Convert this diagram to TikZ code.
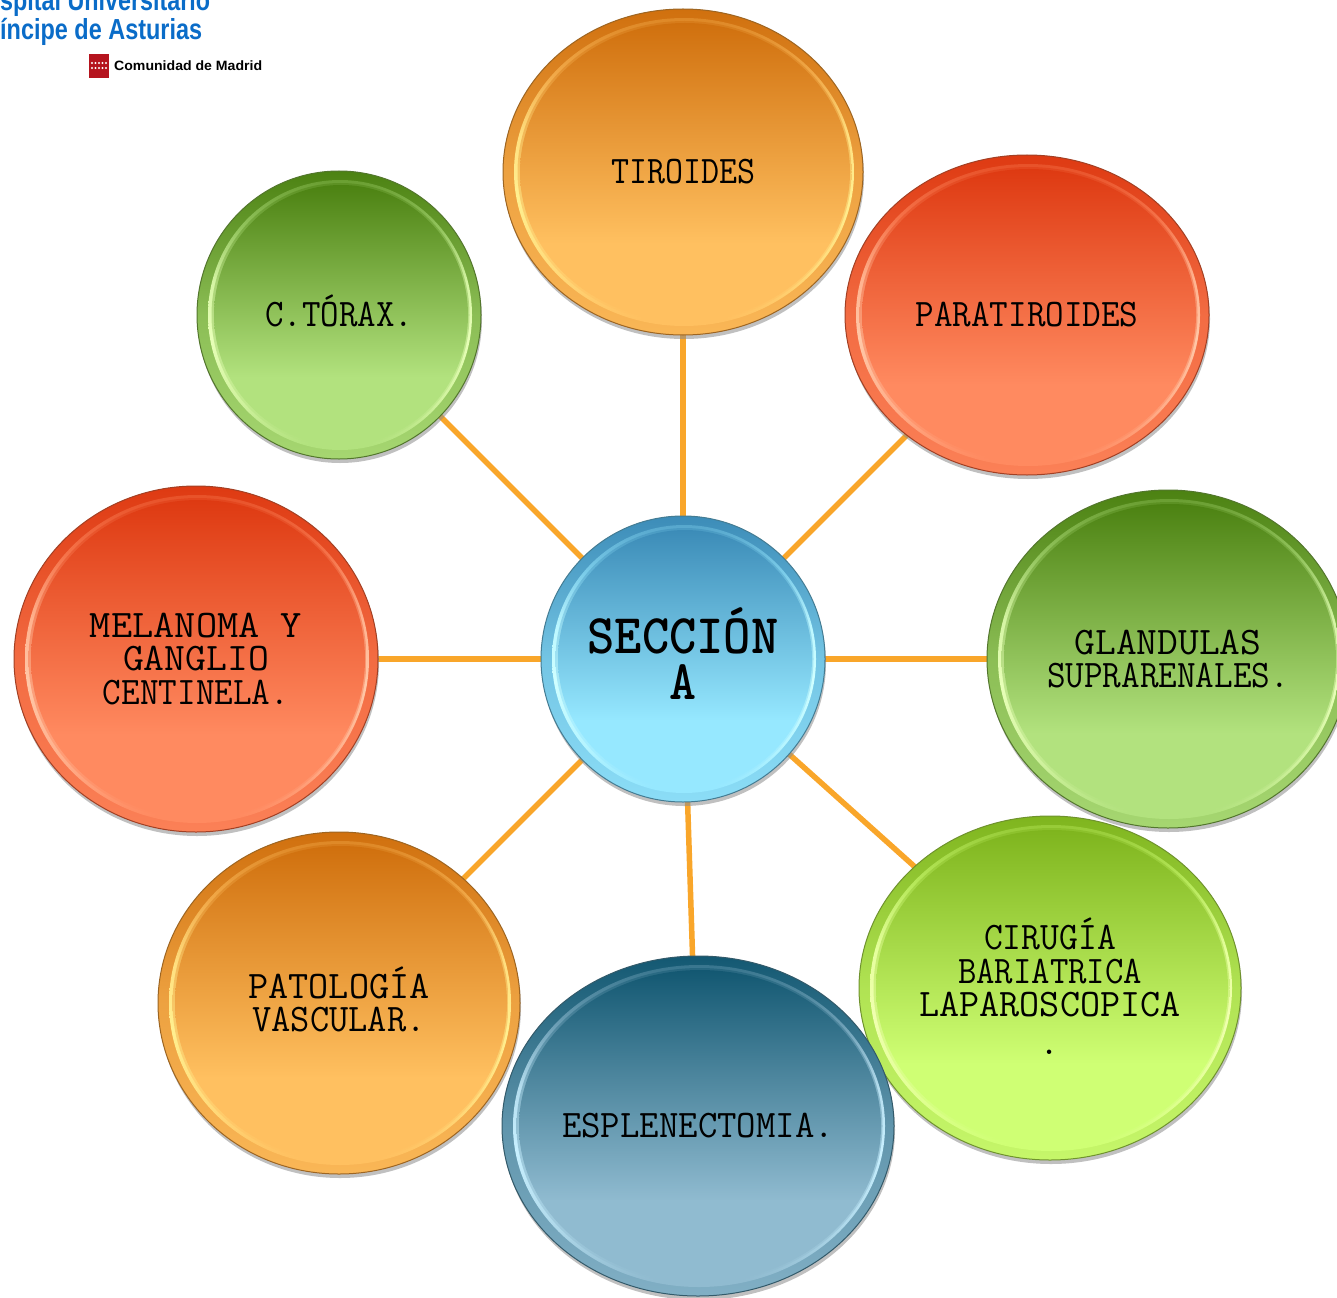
\documentclass[tikz,border=0pt]{standalone}
\usepackage{fontspec}
\usepackage{graphicx}
\usetikzlibrary{shapes.geometric,backgrounds}
\newfontfamily\logofont{Liberation Sans}
\definecolor{tcol}{HTML}{D0700E}
\definecolor{bcol}{HTML}{FFC060}
\definecolor{hcol}{HTML}{FFF090}
\definecolor{linkcol}{HTML}{F9A62A}
\definecolor{logoblue}{HTML}{0A6CC8}
\definecolor{logored}{HTML}{B5141E}
\pgfdeclareverticalshading[tcol,bcol]{bubfill}{100bp}{color(0bp)=(bcol); color(38bp)=(bcol); color(75bp)=(tcol); color(100bp)=(tcol)}
\pgfdeclareverticalshading[tcol,bcol]{bubrim}{100bp}{color(0bp)=(bcol); color(25bp)=(bcol!88!tcol); color(50bp)=(bcol!62!tcol); color(75bp)=(tcol); color(100bp)=(tcol)}
\pgfdeclareverticalshading[tcol,bcol,hcol]{bubhi}{100bp}{color(0bp)=(bcol); color(26bp)=(bcol); color(34bp)=(hcol!55!bcol); color(46bp)=(hcol); color(56bp)=(hcol!65!bcol); color(66bp)=(bcol!70!tcol); color(75bp)=(bcol!30!tcol); color(100bp)=(tcol)}
\tikzset{
  bubblenode/.style={ellipse,inner sep=0pt,align=center,text=black},
  linkline/.style={draw=linkcol,line width=5.5pt},
  shadowpart/.style={fill=black!45,opacity=.55},
  logotext/.style={anchor=base west,inner sep=0pt},
}
\newcommand\lblfont{\ttfamily\fontsize{39}{33.5}\selectfont}
\newcommand\bigfont{\ttfamily\bfseries\fontsize{56}{46}\selectfont}
\newcommand\bubfont{\lblfont}
\newcommand\fitw[2]{\raisebox{0pt}[0.611em][0pt]{\resizebox{#1pt}{\height}{#2}}}
% name, cx, cy, rx, ry, top, bottom, highlight, text
\newcommand\bubble[9]{%
  \definecolor{tcol}{HTML}{#6}\definecolor{bcol}{HTML}{#7}\definecolor{hcol}{HTML}{#8}%
  \fill[shadowpart] (#2+1,#3+4) ellipse [x radius=#4pt,y radius=#5pt];
  \path[shading=bubrim,draw=tcol!55!black!70!bcol,line width=1pt] (#2,#3) ellipse [x radius=#4pt,y radius=#5pt];
  \path[shading=bubhi] (#2+1,#3) ellipse [x radius=#4pt-10pt,y radius=#5pt-9pt];
  \path[shading=bubfill,opacity=.5] (#2+1.5,#3) ellipse [x radius=#4pt-13pt,y radius=#5pt-12pt];
  \path[shading=bubfill] (#2+2,#3) ellipse [x radius=#4pt-15pt,y radius=#5pt-14pt];
  \node[bubblenode,font=\bubfont,minimum width=2*#4 pt,minimum height=2*#5 pt] (#1) at (#2,#3) {#9};
}
\begin{document}
\begin{tikzpicture}[x=1pt,y=-1pt]
\useasboundingbox (0,0) rectangle (1337,1297);
\clip (0,0) rectangle (1337,1297);

\bubble{tir}{683}{172}{180}{163}{D0700E}{FFC060}{FFF090}{\fitw{144}{TIROIDES}}
\bubble{par}{1027}{315}{182}{160}{DE3A12}{FF8A60}{FFC8A8}{\fitw{223}{PARATIROIDES}}
\bubble{gla}{1168}{659}{181}{169}{4C8212}{B2E27E}{E8FFB8}{\fitw{187}{GLANDULAS}\\\fitw{242}{SUPRARENALES.}}
\bubble{pat}{339}{1003}{181}{171}{D0700E}{FFC060}{FFF090}{\fitw{181}{PATOLOGÍA}\\\fitw{173}{VASCULAR.}}
\bubble{mel}{196}{659}{182}{173}{DE3A12}{FF8A60}{FFC8A8}{\fitw{212}{MELANOMA Y}\\\fitw{146}{GANGLIO}\\\fitw{186}{CENTINELA.}}
\bubble{tor}{339}{315}{142}{144}{4C8212}{B2E27E}{E8FFB8}{\fitw{148}{C.TÓRAX.}}
\bubble{cir}{1050}{988}{191}{172}{7FB51E}{CFFF74}{F0FFB0}{\fitw{132}{CIRUGÍA}\\\fitw{184}{BARIATRICA}\\\fitw{261}{LAPAROSCOPICA}\\\raisebox{-4pt}[0.611em][0pt]{.}}
\bubble{esp}{698}{1126}{196}{170}{135872}{90BBD0}{C8F0FF}{\fitw{272}{ESPLENECTOMIA.}}
\renewcommand\bubfont{\bigfont}
\bubble{sec}{683}{659}{142}{143}{3C8CB8}{96E8FF}{D0FFFF}{\fitw{191}{SECCIÓN}\\\fitw{27}{A}}

\begin{pgfonlayer}{background}
  \foreach \other in {tir,par,gla,cir,esp,pat,mel,tor}
    \path[linkline] (sec.center) -- (\other.center);
\end{pgfonlayer}

% logo
\node[logotext,text=logoblue,font=\logofont\bfseries\fontsize{29}{29}\selectfont] (logoa) at (0,11) {\resizebox{210pt}{\height}{spital Universitario}};
\node[logotext,text=logoblue,font=\logofont\bfseries\fontsize{29}{29}\selectfont] (logob) at (0,39.5) {\resizebox{202pt}{\height}{íncipe de Asturias}};
\fill[logored] (89,54) rectangle (109,78);
\foreach \sx in {92,95.5,99,102.5,106} {
  \fill[white] (\sx,63) circle (1.1pt);
  \fill[white] (\sx,68) circle (1.1pt);
}
\node[logotext,text=black,font=\logofont\bfseries\fontsize{13.5}{14}\selectfont] (logoc) at (114,71) {\resizebox{148pt}{\height}{Comunidad de Madrid}};
\end{tikzpicture}
\end{document}
